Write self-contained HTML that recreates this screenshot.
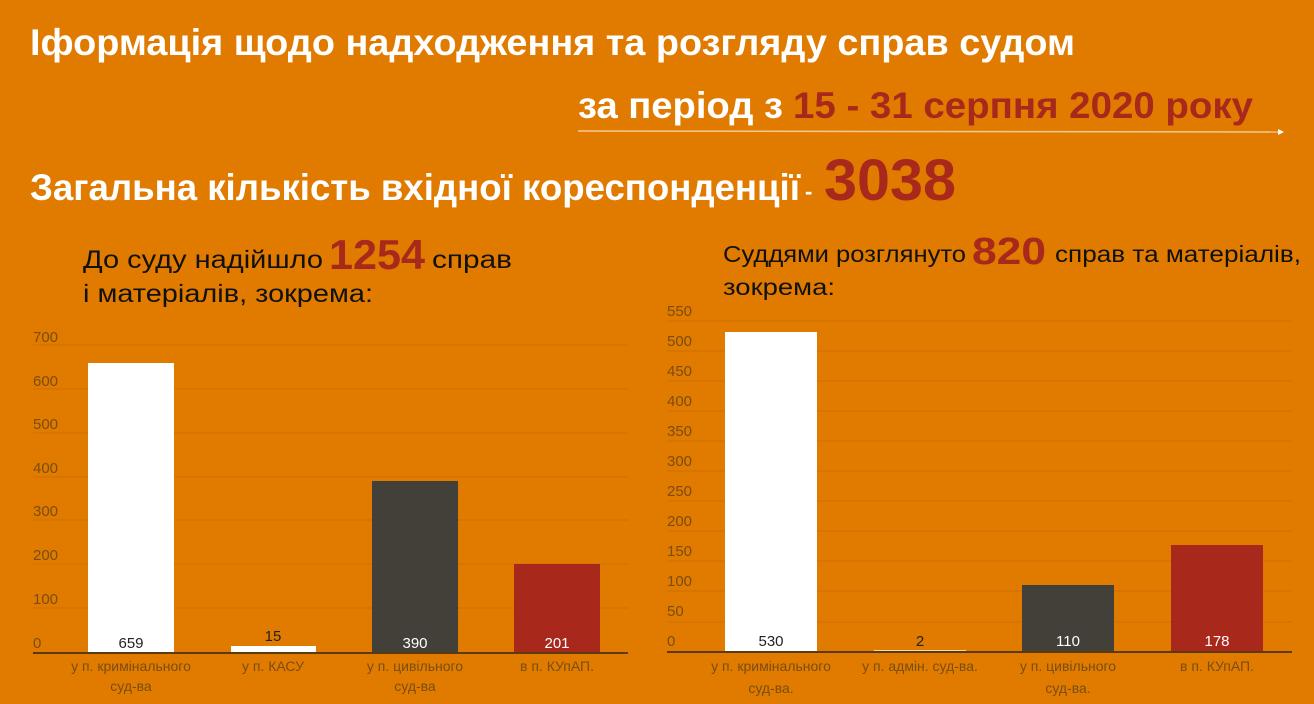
<!DOCTYPE html>
<html><head><meta charset="utf-8"><style>
html,body{margin:0;padding:0;background:#e07b00;}
svg{display:block;font-family:"Liberation Sans","DejaVu Sans",sans-serif;}
</style></head><body>
<svg width="1314" height="704" viewBox="0 0 1314 704" xmlns="http://www.w3.org/2000/svg">
<rect width="1314" height="704" fill="#e07b00"/>
<!-- titles -->
<text x="30" y="55" font-size="37" font-weight="bold" fill="#fff" textLength="1045" lengthAdjust="spacingAndGlyphs">Іформація щодо надходження та розгляду справ судом</text>
<text x="578" y="118" font-size="37" font-weight="bold" fill="#fff" textLength="205" lengthAdjust="spacingAndGlyphs">за період з</text>
<text x="793" y="118" font-size="37" font-weight="bold" fill="#a8281c" textLength="460" lengthAdjust="spacingAndGlyphs">15 - 31 серпня 2020 року</text>
<line x1="578" y1="131" x2="1280" y2="132" stroke="#f5c890" stroke-width="1.5"/>
<polygon points="1278,129 1284,132 1278,135" fill="#fff"/>
<text x="30" y="200" font-size="37" font-weight="bold" fill="#fff" textLength="770" lengthAdjust="spacingAndGlyphs">Загальна кількість вхідної кореспонденції</text>
<text x="805" y="199" font-size="22" font-weight="bold" fill="#fff">-</text>
<text x="824" y="200" font-size="58" font-weight="bold" fill="#a8281c" textLength="132" lengthAdjust="spacingAndGlyphs">3038</text>
<!-- left subtitle -->
<text x="83" y="268" font-size="25" fill="#111" textLength="240" lengthAdjust="spacingAndGlyphs">До суду надійшло</text>
<text x="329" y="269" font-size="42" font-weight="bold" fill="#a8281c" textLength="96" lengthAdjust="spacingAndGlyphs">1254</text>
<text x="432" y="268" font-size="25" fill="#111" textLength="80" lengthAdjust="spacingAndGlyphs">справ</text>
<text x="83" y="302" font-size="25" fill="#111" textLength="290" lengthAdjust="spacingAndGlyphs">і матеріалів, зокрема:</text>
<!-- right subtitle -->
<text x="723" y="262" font-size="23" fill="#111" textLength="243" lengthAdjust="spacingAndGlyphs">Суддями розглянуто</text>
<text x="972" y="264" font-size="38" font-weight="bold" fill="#a8281c" textLength="74" lengthAdjust="spacingAndGlyphs">820</text>
<text x="1055" y="262" font-size="23" fill="#111" textLength="246" lengthAdjust="spacingAndGlyphs">справ та матеріалів,</text>
<text x="723" y="295" font-size="23" fill="#111" textLength="112" lengthAdjust="spacingAndGlyphs">зокрема:</text>

<!-- left chart -->
<g stroke="#d06c00" stroke-width="1">
<line x1="33" y1="345" x2="628" y2="345"/><line x1="33" y1="389" x2="628" y2="389"/>
<line x1="33" y1="433" x2="628" y2="433"/><line x1="33" y1="477" x2="628" y2="477"/>
<line x1="33" y1="520" x2="628" y2="520"/><line x1="33" y1="564" x2="628" y2="564"/>
<line x1="33" y1="608" x2="628" y2="608"/>
</g>
<g font-size="15" fill="#7a4d10">
<text x="33" y="342">700</text><text x="33" y="386">600</text><text x="33" y="429">500</text>
<text x="33" y="473">400</text><text x="33" y="516">300</text><text x="33" y="560">200</text>
<text x="33" y="604">100</text><text x="33" y="648">0</text>
</g>
<rect x="88" y="363" width="86" height="290" fill="#fff"/>
<rect x="231" y="646" width="85" height="7" fill="#fff"/>
<rect x="372" y="481" width="86" height="172" fill="#43403a"/>
<rect x="514" y="564" width="86" height="89" fill="#a8281c"/>
<line x1="33" y1="653" x2="628" y2="653" stroke="#5a3a10" stroke-width="2"/>
<g font-size="15" text-anchor="middle">
<text x="131" y="648" fill="#222">659</text>
<text x="273" y="641" fill="#222">15</text>
<text x="415" y="648" fill="#fff">390</text>
<text x="557" y="648" fill="#fff">201</text>
</g>
<g font-size="14" fill="#7a4d10" text-anchor="middle">
<text x="131" y="671">у п. кримінального</text><text x="131" y="691">суд-ва</text>
<text x="273" y="671">у п. КАСУ</text>
<text x="415" y="671">у п. цивільного</text><text x="415" y="691">суд-ва</text>
<text x="557" y="671">в п. КУпАП.</text>
</g>

<!-- right chart -->
<g stroke="#d06c00" stroke-width="1">
<line x1="667" y1="321" x2="1292" y2="321"/><line x1="667" y1="351" x2="1292" y2="351"/>
<line x1="667" y1="381" x2="1292" y2="381"/><line x1="667" y1="411" x2="1292" y2="411"/>
<line x1="667" y1="441" x2="1292" y2="441"/><line x1="667" y1="471" x2="1292" y2="471"/>
<line x1="667" y1="501" x2="1292" y2="501"/><line x1="667" y1="531" x2="1292" y2="531"/>
<line x1="667" y1="561" x2="1292" y2="561"/><line x1="667" y1="591" x2="1292" y2="591"/>
<line x1="667" y1="622" x2="1292" y2="622"/>
</g>
<g font-size="15" fill="#7a4d10">
<text x="667" y="316">550</text><text x="667" y="346">500</text><text x="667" y="376">450</text>
<text x="667" y="406">400</text><text x="667" y="436">350</text><text x="667" y="466">300</text>
<text x="667" y="496">250</text><text x="667" y="526">200</text><text x="667" y="556">150</text>
<text x="667" y="586">100</text><text x="667" y="616">50</text><text x="667" y="646">0</text>
</g>
<rect x="725" y="332" width="92" height="320" fill="#fff"/>
<rect x="874" y="650" width="92" height="2" fill="#f3d8b0"/>
<rect x="1022" y="585" width="92" height="67" fill="#43403a"/>
<rect x="1171" y="545" width="92" height="107" fill="#a8281c"/>
<line x1="667" y1="652" x2="1292" y2="652" stroke="#5a3a10" stroke-width="2"/>
<g font-size="15" text-anchor="middle">
<text x="771" y="646" fill="#222">530</text>
<text x="920" y="646" fill="#222">2</text>
<text x="1068" y="646" fill="#fff">110</text>
<text x="1217" y="646" fill="#fff">178</text>
</g>
<g font-size="14" fill="#7a4d10" text-anchor="middle">
<text x="771" y="671">у п. кримінального</text><text x="771" y="693">суд-ва.</text>
<text x="920" y="671">у п. адмін. суд-ва.</text>
<text x="1068" y="671">у п. цивільного</text><text x="1068" y="693">суд-ва.</text>
<text x="1217" y="671">в п. КУпАП.</text>
</g>
</svg>
</body></html>
